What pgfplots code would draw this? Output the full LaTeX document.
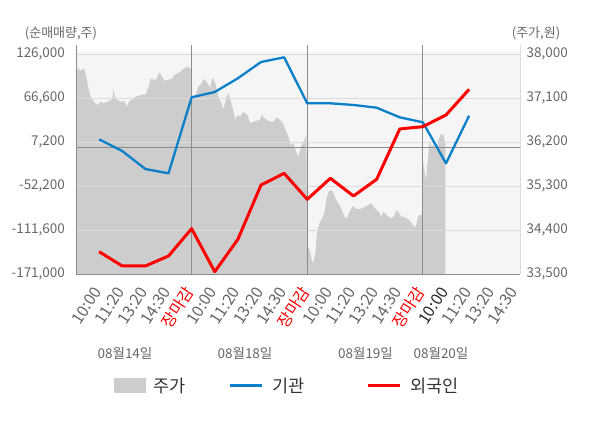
\documentclass[border=0pt]{standalone}
\usepackage{fontspec}
\setmainfont{Noto Sans CJK KR}
\usepackage{pgfplots}
\usepackage{pgfplotstable}
\pgfplotsset{compat=1.18}
\definecolor{bgc}{HTML}{F5F5F5}
\definecolor{areac}{HTML}{CDCDCD}
\definecolor{gridc}{HTML}{DCDCDC}
\definecolor{darkl}{HTML}{8C8C8C}
\definecolor{txt}{HTML}{666666}
\definecolor{legt}{HTML}{333333}
\definecolor{blu}{HTML}{0A7FCA}
\definecolor{rd}{HTML}{FF0000}

\pgfplotstableread{
x y
-1.00 37489
-0.91 37740
-0.83 37652
-0.74 37673
-0.65 37708
-0.57 37570
-0.48 37331
-0.39 37161
-0.28 37059
-0.17 36992
-0.05 36957
0.07 37024
0.21 36992
0.36 37024
0.50 37059
0.56 37059
0.62 37264
0.70 37106
0.79 37059
0.94 37024
1.08 37039
1.20 36922
1.29 37024
1.44 37073
1.58 37127
1.80 37161
2.02 37176
2.12 37298
2.23 37503
2.38 37468
2.49 37489
2.61 37626
2.72 37536
2.84 37448
2.95 37468
3.13 37489
3.24 37556
3.39 37605
3.53 37638
3.68 37708
3.82 37740
3.96 37693
4.00 37331
4.05 37080
4.15 37127
4.29 37331
4.40 37366
4.51 37483
4.63 37433
4.73 37366
4.80 37298
4.87 37468
4.94 37503
5.02 37401
5.16 37127
5.26 37024
5.38 36869
5.49 37094
5.59 37196
5.70 37024
5.78 36889
5.88 36650
5.98 36752
6.10 36718
6.22 36820
6.32 36787
6.42 36752
6.53 36583
6.68 36615
6.82 36636
6.94 36650
7.04 36752
7.14 36685
7.26 36650
7.40 36615
7.54 36615
7.69 36705
7.80 36664
7.95 36583
8.09 36411
8.19 36308
8.29 36139
8.41 36173
8.52 36002
8.62 35887
8.73 36104
8.84 36206
8.96 36343
9.00 34058
9.10 33991
9.20 33786
9.27 33719
9.35 33923
9.42 34333
9.53 34537
9.64 34639
9.74 34742
9.82 35014
9.92 35184
10.03 35218
10.11 35184
10.21 35048
10.31 34979
10.43 34877
10.55 34742
10.65 34639
10.75 34672
10.86 34809
10.98 34891
11.09 34844
11.22 34823
11.37 34844
11.51 34877
11.65 34911
11.76 34946
11.87 34877
11.99 34809
12.09 34774
12.19 34672
12.30 34774
12.42 34707
12.52 34672
12.62 34639
12.74 34672
12.85 34795
12.95 34774
13.06 34672
13.17 34672
13.29 34639
13.40 34605
13.53 34537
13.63 34455
13.72 34502
13.78 34672
13.86 34707
13.98 34707
14.02 35797
14.08 35560
14.14 35423
14.20 35764
14.25 36036
14.29 36241
14.37 36104
14.47 36139
14.57 36036
14.66 36206
14.76 36343
14.83 36364
14.91 36309
14.97 36173
}\price

\pgfplotstableread{
x y
0 10800
1 -5000
2 -29300
3 -35100
4 67500
5 74700
6 93200
7 115200
8 121500
9 59400
10 59400
11 57200
12 53500
13 40500
14 33800
15 -21600
16 42700
}\inst

\pgfplotstableread{
x y
0 -140900
1 -160200
2 -160200
3 -146700
4 -109800
5 -167900
6 -124200
7 -50900
8 -35100
9 -70200
10 -41800
11 -65700
12 -43200
13 24800
14 27900
15 43700
16 78300
}\frgn

\begin{document}
\begin{tikzpicture}[x=1pt,y=1pt]
\useasboundingbox (0,0) rectangle (600,428);
% price axis (right)
\begin{axis}[at={(76pt,154pt)}, anchor=south west,
  width=444pt, height=229pt, scale only axis,
  xmin=-1, xmax=18.2, ymin=33500, ymax=38184,
  scaled y ticks=false, scaled x ticks=false,
  axis x line=none, axis y line*=right,
  axis line style={-, draw=gridc, line width=0.8pt},
  ytick={33500,34400,35300,36200,37100,38000},
  yticklabels={{33,500},{34,400},{35,300},{36,200},{37,100},{38,000}},
  yticklabel style={font=\fontsize{13.5}{14}\selectfont, text=txt, xshift=3pt},
  ytick style={draw=none},
  clip=true]
\fill[bgc] (axis cs:-1,33500) rectangle (axis cs:18.2,38041);
\addplot[fill=areac, draw=none] table[x=x,y=y] {\price} \closedcycle;
\end{axis}
% net volume axis (left)
\begin{axis}[at={(76pt,154pt)}, anchor=south west,
  width=444pt, height=229pt, scale only axis,
  xmin=-1, xmax=18.2, ymin=-171000, ymax=138150,
  scaled y ticks=false, scaled x ticks=false,
  axis x line*=bottom, axis y line*=left,
  axis line style={-, draw=darkl, line width=0.8pt},
  ymajorgrids, grid style={gridc, line width=0.8pt},
  ytick={-171000,-111600,-52200,7200,66600,126000},
  yticklabels={{-171,000},{-111,600},{-52,200},{7,200},{66,600},{126,000}},
  yticklabel style={font=\fontsize{13.5}{14}\selectfont, text=txt, xshift=-7.5pt},
  ytick style={draw=none},
  xtick={0,1,...,18},
  xticklabels={10:00,11:20,13:20,14:30,\textcolor{rd}{장마감},10:00,11:20,13:20,14:30,\textcolor{rd}{장마감},10:00,11:20,13:20,14:30,\textcolor{rd}{장마감},\textcolor{black!85}{10:00},11:20,13:20,14:30},
  xticklabel style={font=\fontsize{16}{16}\selectfont, text=txt, rotate=57, anchor=east},
  xticklabel shift=12pt,
  xtick style={draw=none},
  extra x ticks={-1,4,9,14,18.2},
  extra x tick labels={},
  extra x tick style={tick style={draw=darkl, line width=0.8pt}, major tick length=4pt, tick align=outside, ymajorgrids=false},
  clip=false]
\draw[darkl, line width=0.8pt] (axis cs:-1,0) -- (axis cs:18.2,0);
\draw[darkl, line width=0.8pt] (axis cs:4,-171000) -- (axis cs:4,138150);
\draw[darkl, line width=0.8pt] (axis cs:9,-171000) -- (axis cs:9,138150);
\draw[darkl, line width=0.8pt] (axis cs:14,-171000) -- (axis cs:14,138150);
\addplot[blu, line width=2.3pt, line join=round] table[x=x,y=y] {\inst};
\addplot[rd, line width=3pt, line join=round] table[x=x,y=y] {\frgn};
\end{axis}
% titles
\node[font=\fontsize{13}{13}\selectfont, text=txt] at (61,395) {(순매매량,주)};
\node[font=\fontsize{13}{13}\selectfont, text=txt] at (536,395) {(주가,원)};
% dates
\node[font=\fontsize{13.5}{14}\selectfont, text=txt] at (125,75) {08월14일};
\node[font=\fontsize{13.5}{14}\selectfont, text=txt] at (245,75) {08월18일};
\node[font=\fontsize{13.5}{14}\selectfont, text=txt] at (365.5,75) {08월19일};
\node[font=\fontsize{13.5}{14}\selectfont, text=txt] at (441,75) {08월20일};
% legend
\fill[areac] (114,34.7) rectangle (146,49.7);
\node[anchor=west, inner sep=0pt, font=\fontsize{17.5}{18}\selectfont, text=legt] at (153,42) {주가};
\draw[blu, line width=3pt] (230,42) -- (262,42);
\node[anchor=west, inner sep=0pt, font=\fontsize{17.5}{18}\selectfont, text=legt] at (272,42) {기관};
\draw[rd, line width=3pt] (368,42) -- (400,42);
\node[anchor=west, inner sep=0pt, font=\fontsize{17.5}{18}\selectfont, text=legt] at (410,42) {외국인};
\end{tikzpicture}
\end{document}
